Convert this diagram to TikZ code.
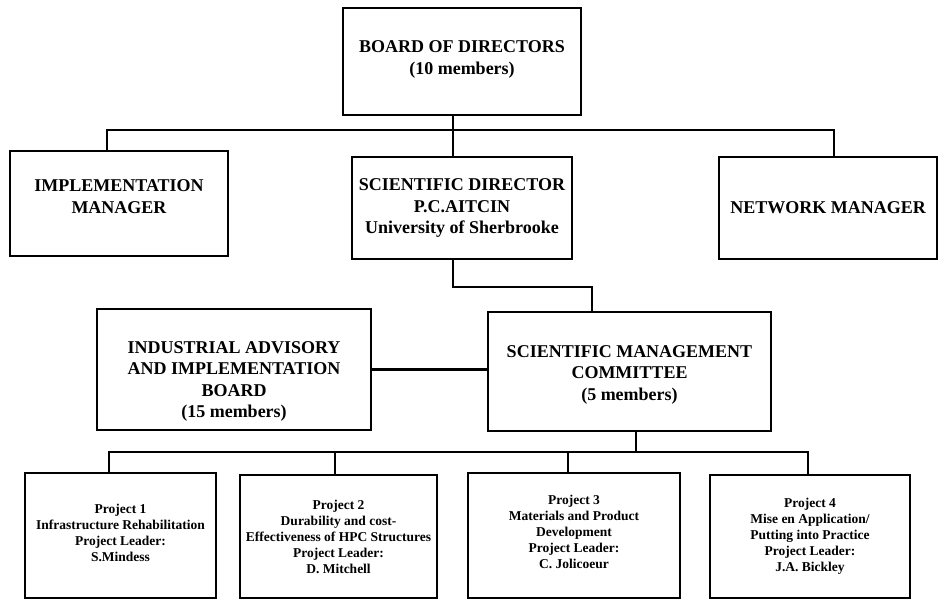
\documentclass[tikz,border=0pt]{standalone}
\usepackage{fontspec}
\setmainfont{Liberation Serif}
\usetikzlibrary{positioning,calc}

\begin{document}
\begin{tikzpicture}[x=1pt,y=-1pt]
  \tikzset{
    box/.style={draw=black,line width=2.4pt,rectangle,inner sep=0pt,align=center,font=\fontsize{18}{21.5}\selectfont\bfseries},
    boxtext/.style={inner sep=0pt,align=center,font=\fontsize{18}{21.5}\selectfont\bfseries},
    proj/.style={box,font=\fontsize{13.5}{16}\selectfont\bfseries},
    link/.style={draw=black,line width=2.4pt},
  }
  \useasboundingbox (0,0) rectangle (939,600);

  \node[box,minimum width=238pt,minimum height=107pt] (board) at (462,61.5) {};
  \node[boxtext] (boardtext) at ([yshift=2pt]board.center) {BOARD OF DIRECTORS\\(10 members)};
  \node[box,minimum width=218pt,minimum height=105pt] (implmgr) at (119,203.5) {};
  \node[boxtext] (implmgrtext) at ([yshift=7pt]implmgr.center) {IMPLEMENTATION\\MANAGER};
  \node[box,minimum width=220pt,minimum height=102pt] (scidir) at (462,208) {SCIENTIFIC DIRECTOR\\P.C.AITCIN\\University of Sherbrooke};
  \node[box,minimum width=218pt,minimum height=102pt] (netmgr) at (828,208) {NETWORK MANAGER};

  \node[box,minimum width=274pt,minimum height=121pt] (iaib) at (234,369.5) {};
  \node[boxtext] (iaibtext) at ([yshift=-12pt]iaib.center) {INDUSTRIAL ADVISORY\\AND IMPLEMENTATION\\BOARD\\(15 members)};
  \node[box,minimum width=283pt,minimum height=119pt] (smc) at (629.5,371.5) {};
  \node[boxtext] (smctext) at ([yshift=-3pt]smc.center) {SCIENTIFIC MANAGEMENT\\COMMITTEE\\(5 members)};

  \node[proj,minimum width=191pt,minimum height=125pt] (proj1) at (120.5,535.5) {};
  \node[boxtext,font=\fontsize{13.5}{16}\selectfont\bfseries] (proj1text) at ([yshift=3pt]proj1.center) {Project 1\\Infrastructure Rehabilitation\\Project Leader:\\S.Mindess};
  \node[proj,minimum width=197pt,minimum height=123pt] (proj2) at (338.5,536.5) {Project 2\\Durability and cost-\\Effectiveness of HPC Structures\\Project Leader:\\D. Mitchell};
  \node[proj,minimum width=212pt,minimum height=125pt] (proj3) at (574,535.5) {};
  \node[boxtext,font=\fontsize{13.5}{16}\selectfont\bfseries] (proj3text) at ([yshift=4pt]proj3.center) {Project 3\\Materials and Product\\Development\\Project Leader:\\C. Jolicoeur};
  \node[proj,minimum width=200pt,minimum height=123pt] (proj4) at (810,536.5) {Project 4\\Mise en Application/\\Putting into Practice\\Project Leader:\\J.A. Bickley};

  \coordinate (topbus) at (453,130);
  \coordinate (midbend) at (453,287);
  \coordinate (lowbus) at (636,452);

  \draw[link] (board.south -| topbus) -- (scidir.north -| topbus);
  \draw[link] ([xshift=-12pt]implmgr.north) |- ([xshift=6pt]netmgr.north |- topbus) -- ([xshift=6pt]netmgr.north);
  \draw[link] (scidir.south -| midbend) -- (midbend) -| ([xshift=-37.5pt]smc.north);
  \draw[link] (iaib.east) -- (iaib.east -| smc.west);
  \draw[link] (smc.south -| lowbus) -- (lowbus);
  \draw[link] ([xshift=-11.5pt]proj1.north) |- ([xshift=-2pt]proj4.north |- lowbus) -- ([xshift=-2pt]proj4.north);
  \draw[link] ([xshift=-3.5pt]proj2.north) -- ([xshift=-3.5pt]proj2.north |- lowbus);
  \draw[link] ([xshift=-6pt]proj3.north) -- ([xshift=-6pt]proj3.north |- lowbus);
\end{tikzpicture}
\end{document}
